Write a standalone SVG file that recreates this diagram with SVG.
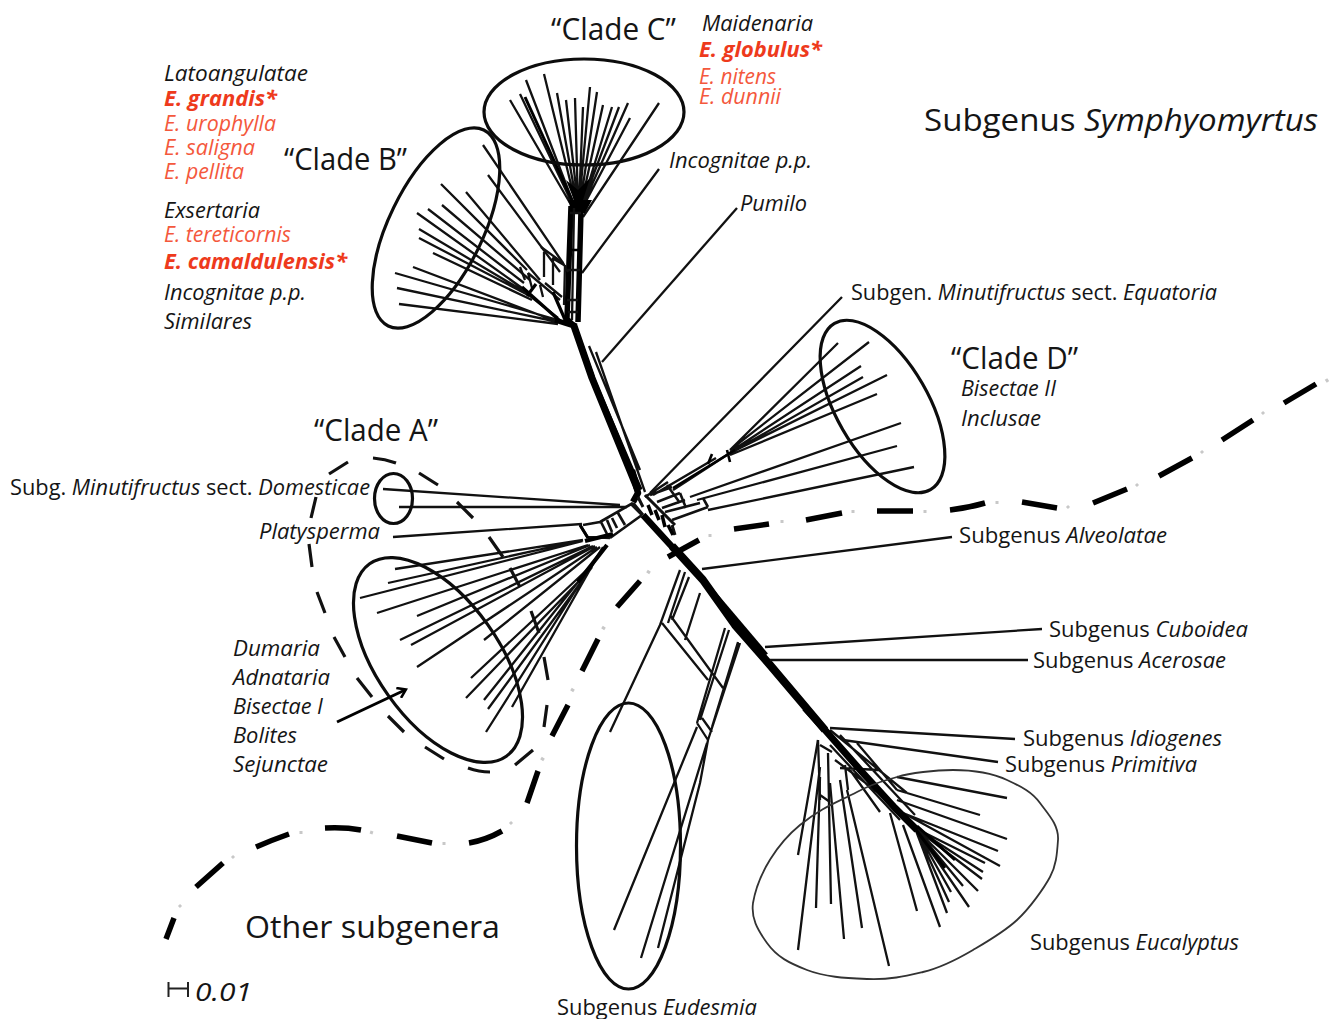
<svg xmlns="http://www.w3.org/2000/svg" width="1329" height="1019" viewBox="0 0 1329 1019">
<style>
text{font-family:"Open Sans","Noto Sans","Liberation Sans",sans-serif;fill:#151515;font-size:21px}
.i{font-style:italic}
.big{font-size:31px}
.red{fill:#f4583c}
.redb{fill:#ee3a1c;font-weight:700;font-style:italic}
.br{fill:none;stroke:#111;stroke-width:2.3;stroke-linecap:butt}
.th{fill:none;stroke:#000;stroke-width:4.5;stroke-linecap:butt;stroke-linejoin:round}
.ring{fill:none;stroke:#0c0c0c;stroke-width:3.2}
.dash{fill:none;stroke:#000;stroke-width:5.5}
.dash2{fill:none;stroke:#111;stroke-width:3.2}
.dot{fill:none;stroke:#c8c8c8;stroke-width:3}
</style>
<defs>
<marker id="ah" markerWidth="12" markerHeight="12" refX="9" refY="6" orient="auto" markerUnits="userSpaceOnUse"><path d="M2 0.500L10 6L2 11.500" fill="none" stroke="#000" stroke-width="2.6"/></marker>
</defs>
<g id="connectors">
<path id="dashed-boundary" class="dash" d="M166 939L174 918M196 887L223 863M256 847Q272 840 289 834M325 828Q345 827 361 830M397 836L432 843M469 843Q486 840 502 831M527 803L538 771M552 736L568 705M582 671L598 639M617 607L640 581M668 557L699 540M734 529L769 524M806 520L842 513M877 511L913 511M950 510Q968 508 985 503M1022 502L1057 508M1093 503L1127 489M1159 476L1192 458M1222 440L1253 420M1284 403L1316 384"/>
<path id="dashed-dots" class="dot" d="M179 905L181 907M232 856L234 858M301 831L301 834M372 831L371 834M444 842L444 845M510 822L512 824M541 758L544 760M571 689L574 691M602 627L605 629M647 571L650 573M710 534L710 537M782 520L782 523M853 510L853 513M925 510L925 513M997 501L997 504M1067 506L1069 508M1136 484L1138 486M1201 451L1203 453M1262 412L1264 414M1326 379L1328 382"/>
<path id="clade-a-dashes" class="dash2" d="M329 474L348 462M373 458Q385 459 396 463M419 473L438 485M457 502L473 518M489 537L503 557M510 568L520 587M531 611L539 633M544 657L548 680M547 705L544 727M533 750L515 765M490 772Q479 772 468 768M444 759L425 747M404 732L388 716M372 697L357 678M345 657L334 637M325 613L317 592M312 567L309 544M311 518L316 497"/>
<path id="clade-c-branches" class="br" d="M510 100L570 203M520 94L572 203M526 80L574 205M544 74L576 205M557 93L577 205M566 100L578 205M575 98L578 205M583 107L579 205M590 87L579 205M597 92L580 205M603 105L581 205M612 107L582 205M619 107L582 205M628 103L583 205M630 118L584 205M659 103L583 217M659 169L582 273"/>
<path class="th" d="M525 97L572 200" style="stroke-width:3"/>
<path d="M568 200L592 200L585 213L572 213Z M574 200L566 180L578 190L590 178L583 200Z" fill="#000"/>
<path id="stem" class="th" d="M571 206L567 318M581 210L578 322M566 318L574 326L593 380L640 490" style="stroke-width:5.500"/>
<path class="th" d="M574 326L592 378L637 488" style="stroke-width:7"/>
<path class="br" d="M574 208L572 320M589 346L640 470M596 352L645 492M570 213L581 213M568 270L580 270M567 300L578 300M568 312L578 312"/>
<path class="th" d="M567 250L580 250M566 320L577 325" style="stroke-width:2.500"/>
<path id="clade-b-branches" class="br" d="M483 145L563 263M488 175L560 272M441 184L527 270M466 192L540 280M442 205L530 280M428 209L524 283M417 213L522 288M419 229L525 292M419 238L530 296M433 253L532 300M413 267L558 322M395 273L558 320M397 288L558 322M399 304L558 324"/>
<path class="br" d="M541 247L563 263L568 272M544 252L544 277M553 258L553 285M552 258L564 265M520 267L525 280M528 273L532 288M540 285L543 297M525 292L558 318M528 273L560 300M545 283L562 297M565 265L564 305"/>
<path class="th" d="M522 287L560 321M553 292L566 322M527 296L536 284" style="stroke-width:3.200"/>
<path class="th" d="M555 320L574 326" style="stroke-width:5"/>
<path id="pumilo" class="br" d="M602 362L737 208"/>
<path id="hub" class="th" d="M632 470L638 493L633 502M643 515L675 550" style="stroke-width:6.500"/>
<path class="th" d="M672 546L703 580L735 625L770 665L825 730" style="stroke-width:8"/>
<path class="th" d="M700 577L766 655" style="stroke-width:5"/>
<path class="br" d="M645 495L675 525M633 503L643 515M638 497L643 507M672 525L675 535" style="stroke-width:3"/>
<path class="th" d="M648 505L652 515M655 510L659 520M662 515L665 527M668 525L673 535" style="stroke-width:3.500"/>
<path class="br" d="M633 503L600 522M642 515L610 538M600 522L583 525M610 538L588 537M580 525L588 538M607 520L612 532M601 522L607 534M612 518L617 528M618 513L625 525M632 505L642 515" style="stroke-width:2.700"/>
<path class="th" d="M580 525L588 538" style="stroke-width:3"/>
<path id="dom-lines" class="br" d="M383 489L620 505M399 507L627 507M393 537L582 524"/>
<path id="clade-a-branches" class="br" d="M395 569L583 540M388 583L583 540M360 598L583 541M377 613L588 545M417 616L590 545M400 640L593 546M411 645L595 546M417 667L597 547M484 640L600 547M471 678L590 567M466 698L580 580M484 700L590 567M488 709L592 567M512 707L600 552M486 732L603 547"/>
<path class="th" d="M578 582L607 545M585 541L613 534" style="stroke-width:4.200"/>
<path id="clade-d-branches" class="br" d="M842 297L650 493M838 343L730 450M869 342L730 450M861 366L730 452M863 377L730 453M887 375L730 453M877 394L730 455M901 423L690 497M897 446L697 500M914 467L708 510"/>
<path class="br" d="M653 495L716 458M673 490L730 453M650 495L672 487M657 502L680 493M662 508L685 500M665 512L700 503M672 520L708 507M667 485L680 503M680 493L686 508M703 498L708 507M645 497L668 482" style="stroke-width:2.600"/>
<path class="th" d="M673 488L735 450M708 464L712 454M727 450L730 462" style="stroke-width:2.600"/>
<path id="alveolatae" class="br" d="M702 569L952 537"/>
<path id="cuboidea" class="br" d="M765 647L1042 629"/>
<path id="acerosae" class="br" d="M770 660L1028 660"/>
<path id="eudesmia-branches" class="br" d="M610 732L660 625L680 570M668 623L685 572M672 620L689 577M685 640L700 593M662 623L708 680M670 615L723 688M697 723L725 628M700 720L729 630M708 740L740 643M712 727L738 642M697 723L708 740M702 718L712 732M614 930L697 727M641 958L707 743M658 948L700 783L708 740"/>
<path id="idiogenes" class="br" d="M830 728L1015 739"/>
<path id="primitiva" class="br" d="M843 740L998 762"/>
<path id="eucalyptus-branches" class="br" d="M798 855L818 740M798 950L820 767M816 908L820 777M831 904L828 753M844 939L830 783M862 928L840 780M889 966L847 790M1007 798L897 777M980 815L907 793M1007 839L897 800M998 851L903 813M1000 866L907 815M985 863L915 828M983 872L915 828M982 879L915 828M978 891L915 828M963 886L915 828M969 907L915 828M951 892L915 828M949 902L915 828M947 913L915 828M940 927L903 825M917 911L890 813"/>
<path class="br" d="M830 730L907 793M857 743L897 790M820 745L832 752M820 795L830 802M818 740L820 800M840 768L880 770M835 760L895 805M850 770L880 812M845 765L848 790M897 790L907 793M830 745L900 820M840 735L915 815"/>
<path id="eucalyptus-trunk" class="th" d="M805 708L825 730L862 772L895 808L917 830" style="stroke-width:7"/>
<path class="th" d="M913 826L945 868M917 826L955 860" style="stroke-width:3"/>
</g>
<g id="clade-c"><ellipse class="ring" cx="584" cy="112" rx="100" ry="53"/><text class="big" lengthAdjust="spacingAndGlyphs" x="551" y="40" textLength="125">“Clade C”</text>
<text class="i" lengthAdjust="spacingAndGlyphs" x="702" y="31" textLength="111">Maidenaria</text>
<text class="redb" lengthAdjust="spacingAndGlyphs" x="699" y="57" textLength="123">E. globulus*</text>
<text class="i red" lengthAdjust="spacingAndGlyphs" x="699" y="84" textLength="77">E. nitens</text>
<text class="i red" lengthAdjust="spacingAndGlyphs" x="699" y="104" textLength="82">E. dunnii</text></g>
<g id="clade-b"><ellipse class="ring" cx="436" cy="228" rx="109" ry="47" transform="rotate(-64 436 228)"/><text class="big" lengthAdjust="spacingAndGlyphs" x="284" y="170" textLength="123">“Clade B”</text>
<text class="i" lengthAdjust="spacingAndGlyphs" x="164" y="81" textLength="144">Latoangulatae</text>
<text class="redb" lengthAdjust="spacingAndGlyphs" x="164" y="106" textLength="113">E. grandis*</text>
<text class="i red" lengthAdjust="spacingAndGlyphs" x="164" y="131" textLength="112">E. urophylla</text>
<text class="i red" lengthAdjust="spacingAndGlyphs" x="164" y="155" textLength="91">E. saligna</text>
<text class="i red" lengthAdjust="spacingAndGlyphs" x="164" y="179" textLength="80">E. pellita</text>
<text class="i" lengthAdjust="spacingAndGlyphs" x="164" y="218" textLength="96">Exsertaria</text>
<text class="i red" lengthAdjust="spacingAndGlyphs" x="164" y="242" textLength="127">E. tereticornis</text>
<text class="redb" lengthAdjust="spacingAndGlyphs" x="164" y="269" textLength="183">E. camaldulensis*</text>
<text class="i" lengthAdjust="spacingAndGlyphs" x="164" y="300" textLength="142">Incognitae p.p.</text>
<text class="i" lengthAdjust="spacingAndGlyphs" x="164" y="329" textLength="88">Similares</text></g>
<g id="incognitae"><text class="i" lengthAdjust="spacingAndGlyphs" x="669" y="168" textLength="143">Incognitae p.p.</text></g>
<g id="pumilo-label"><text class="i" lengthAdjust="spacingAndGlyphs" x="740" y="211" textLength="67">Pumilo</text></g>
<g id="symphyomyrtus"><text class="big" lengthAdjust="spacingAndGlyphs" x="924" y="131" textLength="394">Subgenus <tspan class="i">Symphyomyrtus</tspan></text></g>
<g id="equatoria"><text lengthAdjust="spacingAndGlyphs" x="851" y="300" textLength="366">Subgen. <tspan class="i">Minutifructus</tspan> sect. <tspan class="i">Equatoria</tspan></text></g>
<g id="clade-d"><ellipse class="ring" cx="882.500" cy="406.500" rx="96" ry="46" transform="rotate(60 882.500 406.500)"/><text class="big" lengthAdjust="spacingAndGlyphs" x="951" y="369" textLength="127">“Clade D”</text>
<text class="i" lengthAdjust="spacingAndGlyphs" x="961" y="396" textLength="95">Bisectae II</text>
<text class="i" lengthAdjust="spacingAndGlyphs" x="961" y="426" textLength="80">Inclusae</text></g>
<g id="clade-a-title"><text class="big" lengthAdjust="spacingAndGlyphs" x="314" y="441" textLength="124">“Clade A”</text></g>
<g id="domesticae"><ellipse class="ring" cx="393.500" cy="498.500" rx="19" ry="25"/><text lengthAdjust="spacingAndGlyphs" x="10" y="495" textLength="360">Subg. <tspan class="i">Minutifructus</tspan> sect. <tspan class="i">Domesticae</tspan></text></g>
<g id="platysperma"><text class="i" lengthAdjust="spacingAndGlyphs" x="259" y="539" textLength="121">Platysperma</text></g>
<g id="clade-a"><ellipse class="ring" cx="438" cy="660" rx="118" ry="61" transform="rotate(54.600 438 660)"/>
<path d="M337 722L405 690" fill="none" stroke="#000" stroke-width="3" marker-end="url(#ah)"/>
<text class="i" lengthAdjust="spacingAndGlyphs" x="233" y="656" textLength="87">Dumaria</text>
<text class="i" lengthAdjust="spacingAndGlyphs" x="233" y="685" textLength="97">Adnataria</text>
<text class="i" lengthAdjust="spacingAndGlyphs" x="233" y="714" textLength="90">Bisectae I</text>
<text class="i" lengthAdjust="spacingAndGlyphs" x="233" y="743" textLength="64">Bolites</text>
<text class="i" lengthAdjust="spacingAndGlyphs" x="233" y="772" textLength="95">Sejunctae</text></g>
<g id="alveolatae-label"><text lengthAdjust="spacingAndGlyphs" x="959" y="543" textLength="208">Subgenus <tspan class="i">Alveolatae</tspan></text></g>
<g id="cuboidea-label"><text lengthAdjust="spacingAndGlyphs" x="1049" y="637" textLength="199">Subgenus <tspan class="i">Cuboidea</tspan></text></g>
<g id="acerosae-label"><text lengthAdjust="spacingAndGlyphs" x="1033" y="668" textLength="193">Subgenus <tspan class="i">Acerosae</tspan></text></g>
<g id="idiogenes-label"><text lengthAdjust="spacingAndGlyphs" x="1023" y="746" textLength="199">Subgenus <tspan class="i">Idiogenes</tspan></text></g>
<g id="primitiva-label"><text lengthAdjust="spacingAndGlyphs" x="1005" y="772" textLength="192">Subgenus <tspan class="i">Primitiva</tspan></text></g>
<g id="eucalyptus"><path d="M753 903C758 873 778 843 800 825S838 802 857 792S884 781 897 777S935 770 953 770S992 773 1007 780S1032 792 1040 803S1059 825 1058 840S1056 866 1050 877S1030 908 1017 920S990 940 973 950S940 968 923 972S890 980 867 979S825 977 807 970S777 957 767 943S751 918 753 903Z" fill="none" stroke="#333" stroke-width="1.800"/>
<text lengthAdjust="spacingAndGlyphs" x="1030" y="950" textLength="209">Subgenus <tspan class="i">Eucalyptus</tspan></text></g>
<g id="eudesmia"><ellipse class="ring" cx="628.500" cy="846" rx="52" ry="143"/><text lengthAdjust="spacingAndGlyphs" x="557" y="1015" textLength="200">Subgenus <tspan class="i">Eudesmia</tspan></text></g>
<g id="other"><text class="big" lengthAdjust="spacingAndGlyphs" x="245" y="938" textLength="255">Other subgenera</text></g>
<g id="scale"><path d="M168.500 982V997M168.500 988.500H188M188 982V997" fill="none" stroke="#222" stroke-width="2"/><text class="i" lengthAdjust="spacingAndGlyphs" x="195" y="1001" textLength="57" style="font-size:26px">0.01</text></g>
</svg>
